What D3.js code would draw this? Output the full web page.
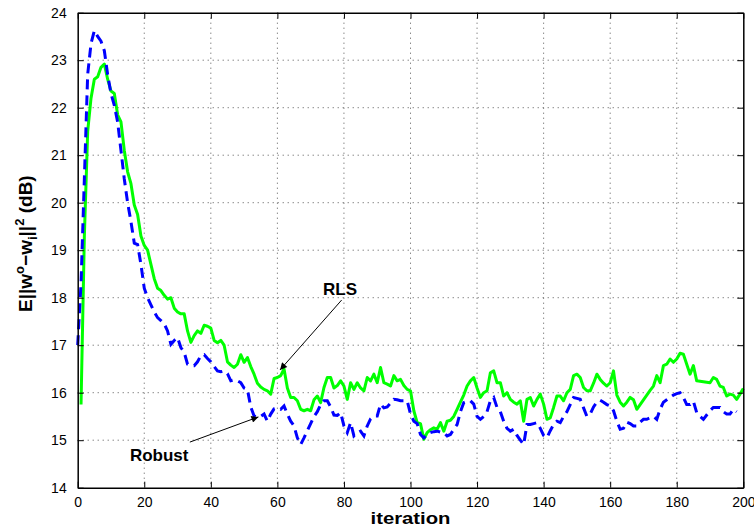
<!DOCTYPE html>
<html>
<head>
<meta charset="utf-8">
<script src="https://cdn.jsdelivr.net/npm/d3@7"></script>
<style>
  body { margin: 0; background: #fff; }
  svg { display: block; font-family: "Liberation Sans", Arial, sans-serif; }
</style>
</head>
<body>
<svg class="chart" width="754" height="529"></svg>
<script>
// Data
const xTicks = [0, 20, 40, 60, 80, 100, 120, 140, 160, 180, 200];
const yTicks = [14, 15, 16, 17, 18, 19, 20, 21, 22, 23, 24];

// RLS (solid green), iterations 1..200
const rlsStart = 1;
const rlsValues = [
  15.75, 19.3, 21.5, 22.2, 22.6, 22.65, 22.85, 22.92, 22.6, 22.35,
  22.3, 21.85, 21.7, 21.1, 20.65, 20.4, 19.95, 19.75, 19.3, 19.1,
  19.0, 18.7, 18.4, 18.2, 18.15, 18.05, 17.97, 18.0, 17.78, 17.7,
  17.66, 17.66, 17.3, 17.06, 17.2, 17.3, 17.25, 17.42, 17.4, 17.36,
  17.1, 17.05, 17.1, 17.0, 16.65, 16.58, 16.53, 16.6, 16.8, 16.64,
  16.74, 16.55, 16.39, 16.2, 16.12, 16.07, 16.04, 15.97, 16.3, 16.32,
  16.36, 16.5, 16.1, 15.9, 15.9, 15.83, 15.65, 15.62, 15.65, 15.62,
  15.85, 15.93, 15.79, 16.11, 16.32, 16.32, 16.1, 16.15, 16.25, 16.14,
  15.86, 16.21, 16.07, 16.21, 16.1, 16.04, 16.32, 16.25, 16.39, 16.21,
  16.53, 16.21, 16.18, 16.14, 16.36, 16.25, 16.28, 16.15, 16.07, 16.04,
  15.62, 15.37, 15.35, 15.02, 15.16, 15.22, 15.26, 15.23, 15.37, 15.19,
  15.4, 15.42, 15.5, 15.65, 15.8, 15.95, 16.14, 16.25, 16.32, 16.1,
  15.9, 16.0, 16.04, 16.42, 16.46, 16.21, 16.21, 15.93, 16.0, 15.86,
  15.8, 15.76, 15.83, 15.4, 15.86, 15.9, 15.72, 15.86, 15.97, 15.76,
  15.44, 15.47, 15.69, 15.93, 15.93, 15.83, 16.0, 16.07, 16.36, 16.39,
  16.32, 16.11, 16.04, 16.04, 16.2, 16.39, 16.28, 16.2, 16.14, 16.21,
  16.46, 15.95, 15.8, 15.72, 15.8, 15.9, 15.85, 15.65, 15.75, 15.85,
  15.95, 16.05, 16.14, 16.36, 16.21, 16.57, 16.6, 16.71, 16.64, 16.71,
  16.83, 16.81, 16.6, 16.39, 16.57, 16.25, 16.24, 16.23, 16.22, 16.21,
  16.32, 16.28, 16.14, 16.11, 15.93, 15.97, 15.95, 15.86, 15.97, 16.09
];

// Robust (dashed blue), iterations 0..198
const robustStart = 0;
const robustValues = [
  17.0,
  18.3, 20.5, 22.7, 23.35, 23.62, 23.5, 23.4, 23.2, 22.7, 22.3,
  22.05, 21.7, 21.1, 20.5, 20.0, 19.6, 19.15, 19.12, 18.7, 18.2,
  18.0, 17.85, 17.7, 17.58, 17.52, 17.45, 17.3, 17.02, 17.1, 17.16,
  16.95, 16.85, 16.6, 16.57, 16.57, 16.65, 16.78, 16.8, 16.72, 16.65,
  16.55, 16.46, 16.44, 16.46, 16.4, 16.25, 16.27, 16.25, 16.21, 16.1,
  16.07, 15.7, 15.51, 15.48, 15.5, 15.55, 15.4, 15.55, 15.66, 15.68,
  15.65, 15.72, 15.55, 15.4, 15.3, 15.05, 14.91, 15.05, 15.2, 15.35,
  15.5, 15.6, 15.75, 15.83, 15.83, 15.7, 15.53, 15.52, 15.58, 15.3,
  15.16, 15.37, 15.09, 15.15, 15.19, 15.09, 15.3, 15.45, 15.51, 15.51,
  15.76, 15.68, 15.7, 15.78, 15.86, 15.85, 15.83, 15.83, 15.83, 15.55,
  15.4, 15.35, 15.12, 15.05, 15.12, 15.16, 15.18, 15.19, 15.17, 15.16,
  15.09, 15.12, 15.23, 15.33, 15.6, 15.79, 15.82, 15.83, 15.76, 15.5,
  15.44, 15.5, 15.6, 15.83, 15.9, 15.69, 15.6, 15.4, 15.25, 15.19,
  15.23, 15.1, 15.0, 14.91, 15.33, 15.33, 15.35, 15.37, 15.25, 15.1,
  15.05, 15.2, 15.33, 15.4, 15.37, 15.5, 15.6, 15.75, 15.9, 15.88,
  15.86, 15.68, 15.5, 15.55, 15.7, 15.8, 15.84, 15.8, 15.75, 15.72,
  15.62, 15.4, 15.23, 15.25, 15.38, 15.35, 15.3, 15.3, 15.38, 15.44,
  15.44, 15.47, 15.5, 15.44, 15.65, 15.8, 15.85, 15.9, 15.95, 15.98,
  16.0, 15.9, 15.75, 15.75, 15.82, 15.58, 15.5, 15.44, 15.53, 15.62,
  15.69, 15.69, 15.69, 15.6, 15.55, 15.55, 15.65, 15.6
];

// annotations: [label, text x, text y, arrow from x, from y, to x, to y] in data units
const annotations = [
  ["RLS", 73.7, 18.06, 79.3, 17.95, 60.8, 16.48],
  ["Robust", 15.7, 14.56, 33.7, 14.96, 54.3, 15.49]
];

const LEFT = 77.7, RIGHT = 743.3, TOP = 12.7, BOTTOM = 487.7;
const TICK_LEN = 6;

var svg = d3.select(".chart");

var x = d3.scaleLinear().domain([0, 200]).range([LEFT, RIGHT]);
var y = d3.scaleLinear().domain([14, 24]).range([BOTTOM, TOP]);

svg.append("defs").append("marker")
   .attr("id", "arrow")
   .attr("viewBox", "0 0 10 10")
   .attr("refX", 10).attr("refY", 5)
   .attr("markerWidth", 9).attr("markerHeight", 7)
   .attr("markerUnits", "userSpaceOnUse")
   .attr("orient", "auto")
   .append("path").attr("d", "M0,0L10,5L0,10z").attr("fill", "#000");

// grid (dotted)
var grid = svg.append("g").attr("class", "grid");
grid.selectAll("line.vx")
    .data(xTicks.filter(function(d) { return d > 0 && d < 200; }))
    .enter().append("line")
    .attr("x1", function(d) { return x(d); }).attr("x2", function(d) { return x(d); })
    .attr("y1", TOP).attr("y2", BOTTOM);
grid.selectAll("line.hy")
    .data(yTicks.filter(function(d) { return d > 14 && d < 24; }))
    .enter().append("line")
    .attr("y1", function(d) { return y(d); }).attr("y2", function(d) { return y(d); })
    .attr("x1", LEFT).attr("x2", RIGHT);
grid.selectAll("line")
    .attr("stroke", "#555")
    .attr("stroke-width", 1)
    .attr("stroke-dasharray", "1,4");

// curves
var line = d3.line()
   .x(function(d) { return x(d[0]); })
   .y(function(d) { return y(d[1]); });

var rls = rlsValues.map(function(v, i) { return [rlsStart + i, v]; });
var robust = robustValues.map(function(v, i) { return [robustStart + i, v]; });

svg.append("path").datum(rls)
   .attr("d", line)
   .attr("fill", "none")
   .attr("stroke", "#00ff00")
   .attr("stroke-width", 3)
   .attr("stroke-linejoin", "round");

svg.append("path").datum(robust)
   .attr("d", line)
   .attr("fill", "none")
   .attr("stroke", "#0000ff")
   .attr("stroke-width", 3)
   .attr("stroke-dasharray", "10,6");

// axes: box with inward ticks on all sides
var xAxisB = d3.axisBottom(x).tickValues(xTicks).tickSizeInner(-TICK_LEN).tickSizeOuter(0).tickPadding(9);
var xAxisT = d3.axisTop(x).tickValues(xTicks).tickSizeInner(-TICK_LEN).tickSizeOuter(0).tickFormat("");
var yAxisL = d3.axisLeft(y).tickValues(yTicks).tickSizeInner(-TICK_LEN).tickSizeOuter(0).tickPadding(11);
var yAxisR = d3.axisRight(y).tickValues(yTicks).tickSizeInner(-TICK_LEN).tickSizeOuter(0).tickFormat("");

svg.append("g").attr("transform", "translate(0," + BOTTOM + ")").call(xAxisB);
svg.append("g").attr("transform", "translate(0," + TOP + ")").call(xAxisT);
svg.append("g").attr("transform", "translate(" + LEFT + ",0)").call(yAxisL);
svg.append("g").attr("transform", "translate(" + RIGHT + ",0)").call(yAxisR);

svg.selectAll(".domain").attr("stroke", "#000").attr("stroke-width", 1.5);
svg.selectAll(".tick line").attr("stroke", "#000").attr("stroke-width", 1);
svg.selectAll(".tick text")
   .attr("font-family", "Liberation Sans, Arial, sans-serif")
   .attr("font-size", 14)
   .attr("fill", "#000");

// axis titles
svg.append("text")
   .attr("x", (LEFT + RIGHT) / 2)
   .attr("y", 524)
   .attr("text-anchor", "middle")
   .attr("font-size", 17)
   .attr("font-weight", "bold")
   .attr("textLength", 80)
   .attr("lengthAdjust", "spacingAndGlyphs")
   .text("iteration");

var ylab = svg.append("text")
   .attr("transform", "translate(32,312) rotate(-90)")
   .attr("text-anchor", "start")
   .attr("font-size", 19)
   .attr("font-weight", "bold");
ylab.append("tspan").text("E||w");
ylab.append("tspan").attr("font-size", 13).attr("dy", -8).text("o");
ylab.append("tspan").attr("dy", 8).text("\u2212w");
ylab.append("tspan").attr("font-size", 13).attr("dy", 5).text("i");
ylab.append("tspan").attr("dy", -5).text("||");
ylab.append("tspan").attr("font-size", 13).attr("dy", -8).text("2");
ylab.append("tspan").attr("dy", 8).text(" (dB)");

// annotations
var ann = svg.selectAll("g.ann").data(annotations).enter().append("g").attr("class", "ann");
ann.append("text")
   .attr("x", function(d) { return x(d[1]); })
   .attr("y", function(d) { return y(d[2]); })
   .attr("font-size", 17)
   .attr("font-weight", "bold")
   .text(function(d) { return d[0]; });
ann.append("line")
   .attr("x1", function(d) { return x(d[3]); })
   .attr("y1", function(d) { return y(d[4]); })
   .attr("x2", function(d) { return x(d[5]); })
   .attr("y2", function(d) { return y(d[6]); })
   .attr("stroke", "#000")
   .attr("stroke-width", 1)
   .attr("marker-end", "url(#arrow)");
</script>
</body>
</html>
